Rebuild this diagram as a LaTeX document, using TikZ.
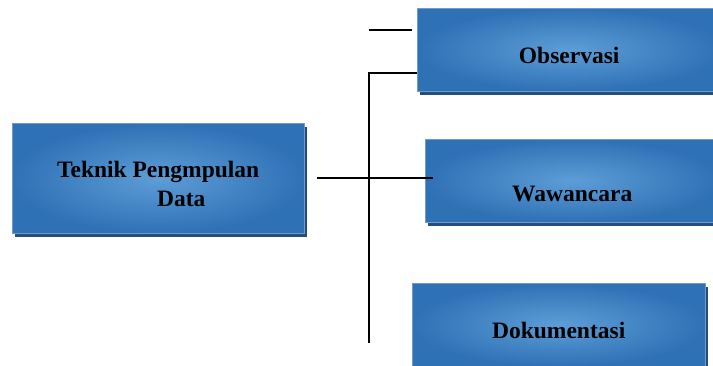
\documentclass[tikz,border=0pt]{standalone}
\usepackage{fontspec}
\setmainfont{Liberation Serif}
\usetikzlibrary{shadows}
\definecolor{boxdark}{RGB}{47,113,181}
\definecolor{boxlight}{RGB}{93,157,215}
\definecolor{boxshadow}{RGB}{36,78,125}
\tikzset{
  methodbox/.style={shade, inner color=boxlight, outer color=boxdark,
    draw=boxdark!70!white, line width=0.4pt, anchor=north west, inner sep=0pt,
    drop shadow={shadow xshift=3pt, shadow yshift=-4pt, opacity=1, fill=boxshadow},
    font=\fontsize{23.5}{29}\selectfont\bfseries},
  link/.style={line width=1.6pt, black}
}
\begin{document}
\begin{tikzpicture}[x=1pt,y=-1pt]
    \useasboundingbox (0,0) rectangle (713,366);
    \clip (0,0) rectangle (713,366);

    % the boxes
    \node[methodbox, minimum width=292pt, minimum height=110pt, align=left] (teknik) at (12,123)
        {\rule{0pt}{27pt}Teknik Pengmpulan\\\hspace*{100pt}Data};
    \node[methodbox, minimum width=304pt, minimum height=83pt, text height=27pt, text depth=0pt] (obs) at (417,8) {Observasi};
    \node[methodbox, minimum width=294pt, minimum height=83pt, text height=42pt, text depth=0pt] (waw) at (425,139) {Wawancara};
    \node[methodbox, minimum width=293pt, minimum height=83pt, text height=27pt, text depth=0pt] (dok) at (412,283) {Dokumentasi};

    % the lines
    \coordinate (stubL) at (369,30);
    \coordinate (stubR) at (412,30);
    \coordinate (spineTop) at (369,73);
    \coordinate (spineEnd) at (369,343);
    \draw[link] (stubL) -- (stubR);
    \draw[link] (obs.west |- spineTop) -- (spineTop) -- (spineEnd);
    \draw[link] ([xshift=13pt]teknik.east) -- ([xshift=8pt]waw.west |- teknik.east);
\end{tikzpicture}
\end{document}
